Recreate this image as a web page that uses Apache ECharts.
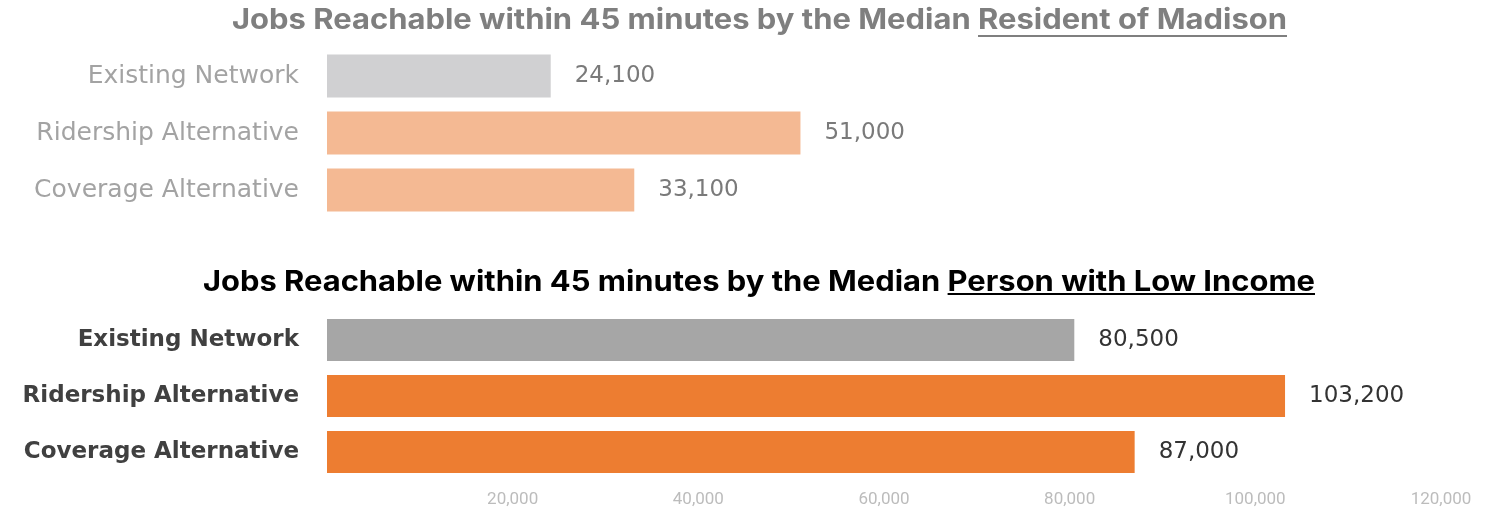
<!DOCTYPE html>
<html>
<head>
<meta charset="utf-8">
<script src="https://cdn.jsdelivr.net/npm/echarts@6/dist/echarts.min.js"></script>
<style>
  html, body { margin: 0; padding: 0; background: #ffffff; }
  #chart { width: 1503px; height: 525px; }
</style>
</head>
<body>
<div id="chart"></div>
<script>
// ---- data ----
const categories = ['Existing Network', 'Ridership Alternative', 'Coverage Alternative'];
const madisonJobs = [24100, 51000, 33100];
const lowIncomeJobs = [80500, 103200, 87000];
const xTickValues = [0, 20000, 40000, 60000, 80000, 100000, 120000];
const titleTopPrefix = 'Jobs Reachable within 45 minutes by the Median ';
const titleTopUnderlined = 'Resident of Madison';
const titleBottomPrefix = 'Jobs Reachable within 45 minutes by the Median ';
const titleBottomUnderlined = 'Person with Low Income';

// ---- styling ----
const fmt = v => Number(v).toLocaleString('en-US');
const axisMax = xTickValues[xTickValues.length - 1];
const axisStep = xTickValues[1] - xTickValues[0];

function titleGraphics(prefix, underlined, cx, cy, targetW, uy, color) {
  const fontSize = 28, fontFamily = 'Inter', fontWeight = 'bold';
  const ctx = document.createElement('canvas').getContext('2d');
  ctx.font = fontWeight + ' ' + fontSize + 'px ' + fontFamily;
  const W = ctx.measureText(prefix + underlined).width;
  const P = ctx.measureText(prefix).width;
  const s = targetW / W;
  const left = cx - targetW / 2;
  return [
    {
      type: 'text', x: cx, y: cy, scaleX: s, silent: true,
      style: {
        text: prefix + underlined, fontFamily, fontWeight, fontSize,
        fill: color, textAlign: 'center', textVerticalAlign: 'middle',
        align: 'center', verticalAlign: 'middle'
      }
    },
    {
      type: 'line', silent: true,
      shape: { x1: left + s * P, y1: uy, x2: left + targetW, y2: uy },
      style: { stroke: color, lineWidth: 2 }
    }
  ];
}

const grayTop = '#d0d0d2', orangeTop = '#f4b993';
const grayBot = '#a6a6a6', orangeBot = '#ed7d31';

const chart = echarts.init(document.getElementById('chart'));
chart.setOption({
  animation: false,
  backgroundColor: '#ffffff',
  graphic: [
    ...titleGraphics(titleTopPrefix, titleTopUnderlined, 759.5, 21, 1055, 36, '#7f7f7f'),
    ...titleGraphics(titleBottomPrefix, titleBottomUnderlined, 759, 283, 1112, 294, '#000000')
  ],
  grid: [
    { left: 327, top: 47.5, width: 1114, height: 171 },
    { left: 327, top: 312, width: 1114, height: 168 }
  ],
  xAxis: [
    { gridIndex: 0, type: 'value', min: 0, max: axisMax, interval: axisStep, show: false },
    {
      gridIndex: 1, type: 'value', min: 0, max: axisMax, interval: axisStep,
      axisLine: { show: false }, axisTick: { show: false }, splitLine: { show: false },
      axisLabel: {
        showMinLabel: false, margin: 11, color: '#bcbcbc', fontSize: 17,
        fontFamily: 'Roboto', formatter: fmt
      }
    }
  ],
  yAxis: [
    {
      gridIndex: 0, type: 'category', data: categories, inverse: true,
      axisLine: { show: false }, axisTick: { show: false }, splitLine: { show: false },
      axisLabel: { margin: 28, color: '#a3a3a3', fontSize: 25, fontFamily: 'DejaVu Sans' }
    },
    {
      gridIndex: 1, type: 'category', data: categories, inverse: true,
      axisLine: { show: false }, axisTick: { show: false }, splitLine: { show: false },
      axisLabel: { margin: 28, color: '#404040', fontSize: 23, fontWeight: 'bold', fontFamily: 'DejaVu Sans' }
    }
  ],
  series: [
    {
      type: 'bar', xAxisIndex: 0, yAxisIndex: 0, data: madisonJobs, barWidth: 43,
      itemStyle: { color: p => (p.dataIndex === 0 ? grayTop : orangeTop) },
      label: {
        show: true, position: 'right', distance: 24, color: '#7a7a7a',
        fontSize: 23, fontFamily: 'DejaVu Sans', formatter: p => fmt(p.value)
      }
    },
    {
      type: 'bar', xAxisIndex: 1, yAxisIndex: 1, data: lowIncomeJobs, barWidth: 42,
      itemStyle: { color: p => (p.dataIndex === 0 ? grayBot : orangeBot) },
      label: {
        show: true, position: 'right', distance: 24, color: '#333333',
        fontSize: 23, fontFamily: 'DejaVu Sans', formatter: p => fmt(p.value)
      }
    }
  ]
});
</script>
</body>
</html>
